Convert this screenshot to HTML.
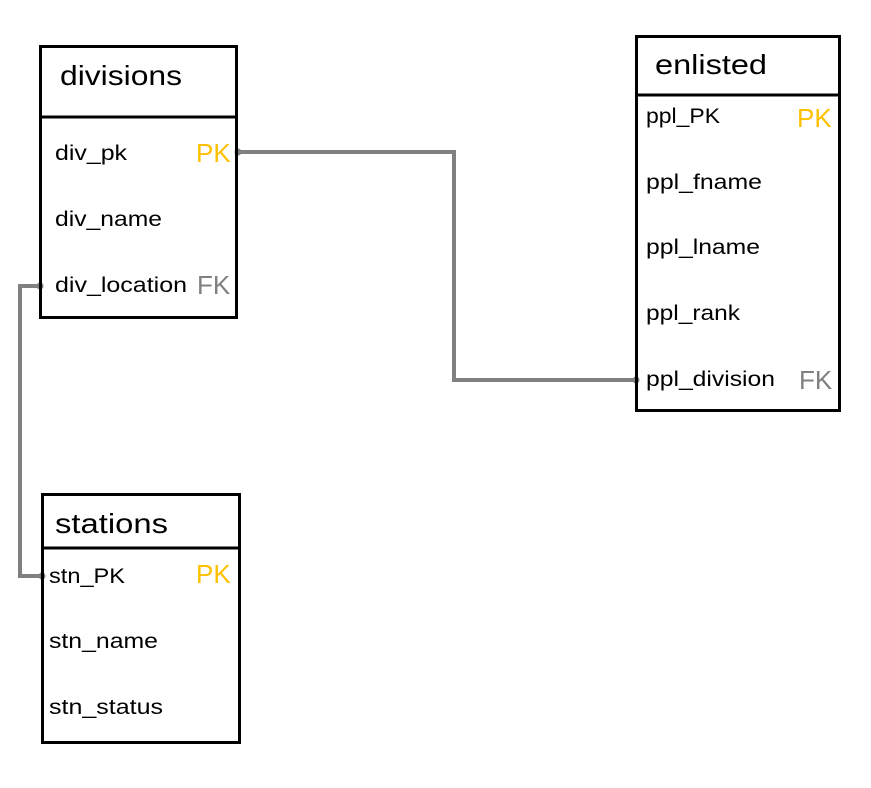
<!DOCTYPE html>
<html><head><style>body{margin:0;background:#fff}svg{display:block}text{font-family:"Liberation Sans",sans-serif}</style></head><body>
<svg width="871" height="788" xmlns="http://www.w3.org/2000/svg">
<rect width="871" height="788" fill="#fff"/>
<g fill="none" stroke="#808080" stroke-width="4">
<polyline points="237,152 454,152 454,380 636,380"/>
<polyline points="40,286 20,286 20,576 42,576"/>
</g>
<g fill="#808080"><circle cx="238" cy="152" r="3.5"/><circle cx="636" cy="380" r="3.5"/><circle cx="40" cy="286" r="3.5"/><circle cx="42" cy="576" r="3.5"/></g>
<g fill="none" stroke="#000" stroke-width="3">
<rect x="40.5" y="46.5" width="196" height="271"/><line x1="40" y1="117" x2="237" y2="117"/>
<rect x="636.5" y="36.5" width="203" height="374"/><line x1="636" y1="95" x2="840" y2="95"/>
<rect x="42.5" y="494.5" width="197" height="248"/><line x1="42" y1="548" x2="240" y2="548"/>
</g>
<g font-size="28" fill="#000" lengthAdjust="spacingAndGlyphs">
<text x="60" y="85" textLength="122" lengthAdjust="spacingAndGlyphs">divisions</text>
<text x="655" y="74" textLength="112" lengthAdjust="spacingAndGlyphs">enlisted</text>
<text x="55" y="533" textLength="113" lengthAdjust="spacingAndGlyphs">stations</text>
</g>
<g font-size="21" fill="#000">
<text x="55" y="160" textLength="72" lengthAdjust="spacingAndGlyphs">div_pk</text>
<text x="55" y="226" textLength="107" lengthAdjust="spacingAndGlyphs">div_name</text>
<text x="55" y="292" textLength="132" lengthAdjust="spacingAndGlyphs">div_location</text>
<text x="646" y="123" textLength="74" lengthAdjust="spacingAndGlyphs">ppl_PK</text>
<text x="646" y="189" textLength="116" lengthAdjust="spacingAndGlyphs">ppl_fname</text>
<text x="646" y="254" textLength="114" lengthAdjust="spacingAndGlyphs">ppl_lname</text>
<text x="646" y="320" textLength="94" lengthAdjust="spacingAndGlyphs">ppl_rank</text>
<text x="646" y="386" textLength="129" lengthAdjust="spacingAndGlyphs">ppl_division</text>
<text x="49" y="583" textLength="76" lengthAdjust="spacingAndGlyphs">stn_PK</text>
<text x="49" y="648" textLength="109" lengthAdjust="spacingAndGlyphs">stn_name</text>
<text x="49" y="714" textLength="114" lengthAdjust="spacingAndGlyphs">stn_status</text>
</g>
<g font-size="26">
<text x="196" y="162" fill="#ffc000">PK</text>
<text x="197" y="294" fill="#808080">FK</text>
<text x="797" y="127" fill="#ffc000">PK</text>
<text x="799" y="389" fill="#808080">FK</text>
<text x="196" y="583" fill="#ffc000">PK</text>
</g>
</svg>
</body></html>
